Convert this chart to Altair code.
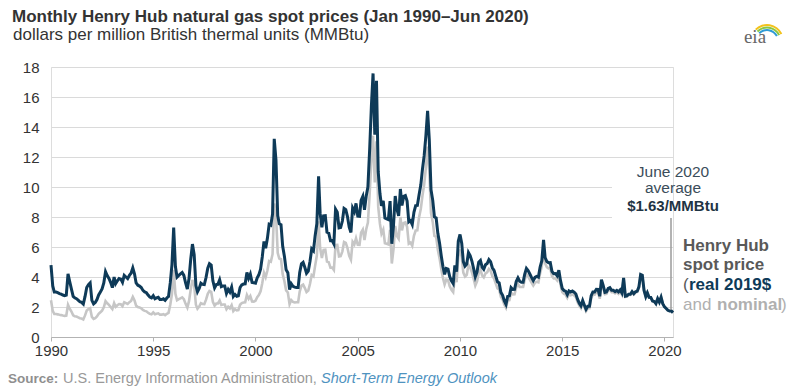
import altair as alt
import pandas as pd

# ---- data: Henry Hub monthly spot price, nominal $/MMBtu ----
nom_1990 = [2.45, 1.74, 1.53, 1.53, 1.51, 1.48, 1.46, 1.43, 1.41, 1.43, 2.15, 1.89]
nom_1991 = [1.70, 1.44, 1.39, 1.36, 1.31, 1.25, 1.23, 1.17, 1.44, 1.76, 1.86, 1.92]
nom_1992 = [1.34, 1.21, 1.26, 1.37, 1.54, 1.65, 1.76, 1.98, 2.39, 2.25, 2.14, 2.00]
nom_1993 = [1.86, 2.26, 2.01, 2.12, 2.20, 2.18, 2.06, 2.32, 2.26, 2.20, 2.32, 2.40]
nom_1994 = [2.67, 2.43, 2.09, 2.00, 1.97, 1.91, 1.80, 1.74, 1.71, 1.62, 1.54, 1.51]
nom_1995 = [1.64, 1.52, 1.55, 1.58, 1.49, 1.49, 1.52, 1.46, 1.55, 1.61, 2.15, 2.86]
nom_1996 = [4.48, 2.88, 2.45, 2.52, 2.58, 2.64, 2.52, 2.21, 1.96, 2.39, 3.19, 3.80]
nom_1997 = [3.45, 2.15, 1.89, 2.03, 2.25, 2.20, 2.19, 2.49, 2.88, 3.07, 3.01, 2.35]
nom_1998 = [2.09, 2.23, 2.24, 2.43, 2.14, 2.17, 2.17, 1.85, 2.02, 1.91, 2.12, 1.72]
nom_1999 = [1.85, 1.77, 1.79, 2.15, 2.26, 2.30, 2.31, 2.80, 2.55, 2.73, 2.37, 2.36]
nom_2000 = [2.42, 2.66, 2.79, 3.04, 3.59, 4.29, 3.99, 4.43, 5.06, 5.02, 5.52, 8.90]
nom_2001 = [8.17, 5.61, 5.23, 5.19, 4.19, 3.72, 3.11, 2.97, 2.19, 2.46, 2.34, 2.30]
nom_2002 = [2.32, 2.32, 3.03, 3.43, 3.50, 3.26, 2.99, 3.09, 3.55, 4.13, 4.04, 4.74]
nom_2003 = [5.43, 7.71, 5.93, 5.26, 5.81, 5.82, 5.03, 4.99, 4.62, 4.63, 4.47, 6.13]
nom_2004 = [6.14, 5.37, 5.39, 5.71, 6.33, 6.27, 5.93, 5.41, 5.15, 6.35, 6.17, 6.58]
nom_2005 = [6.15, 6.14, 6.96, 7.16, 6.47, 7.18, 7.63, 9.53, 11.75, 13.42, 10.30, 13.05]
nom_2006 = [8.69, 7.54, 6.89, 7.16, 6.25, 6.21, 6.17, 7.14, 4.90, 5.85, 7.41, 6.73]
nom_2007 = [6.55, 8.00, 7.11, 7.60, 7.64, 7.35, 6.22, 6.29, 6.08, 6.74, 7.10, 7.11]
nom_2008 = [7.99, 8.54, 9.41, 10.18, 11.27, 12.69, 11.09, 8.26, 7.67, 6.74, 6.68, 5.82]
nom_2009 = [5.24, 4.52, 3.96, 3.50, 3.83, 3.80, 3.38, 3.14, 2.99, 4.01, 3.66, 5.35]
nom_2010 = [5.83, 5.32, 4.29, 4.03, 4.14, 4.80, 4.63, 4.32, 3.89, 3.43, 3.71, 4.25]
nom_2011 = [4.49, 4.09, 3.97, 4.24, 4.31, 4.54, 4.42, 4.06, 3.90, 3.57, 3.24, 3.17]
nom_2012 = [2.67, 2.50, 2.17, 1.95, 2.43, 2.46, 2.95, 2.84, 2.85, 3.32, 3.54, 3.34]
nom_2013 = [3.33, 3.33, 3.81, 4.17, 4.04, 3.83, 3.62, 3.43, 3.62, 3.68, 3.64, 4.24]
nom_2014 = [4.71, 6.00, 4.90, 4.66, 4.58, 4.59, 4.05, 3.91, 3.92, 3.78, 4.12, 3.48]
nom_2015 = [2.99, 2.87, 2.83, 2.61, 2.85, 2.78, 2.84, 2.77, 2.66, 2.34, 2.09, 1.93]
nom_2016 = [2.28, 1.99, 1.73, 1.92, 1.92, 2.59, 2.82, 2.82, 2.99, 2.98, 2.55, 3.59]
nom_2017 = [3.30, 2.85, 2.88, 3.10, 3.15, 2.98, 2.98, 2.90, 2.98, 2.88, 3.01, 2.82]
nom_2018 = [3.87, 2.67, 2.69, 2.80, 2.80, 2.97, 2.83, 2.96, 3.00, 3.28, 4.09, 4.04]
nom_2019 = [3.11, 2.69, 2.95, 2.65, 2.64, 2.40, 2.37, 2.22, 2.56, 2.33, 2.65, 2.22]
nom_2020 = [2.02, 1.91, 1.79, 1.74, 1.75, 1.63]

# annual consumer price index (1982-84=100), used to express prices in 2019 dollars
cpi_years = list(range(1990, 2021))
cpi_values = [130.7, 136.2, 140.3, 144.5, 148.2, 152.4, 156.9, 160.5, 163.0, 166.6,
              172.2, 177.1, 179.9, 184.0, 188.9, 195.3, 201.6, 207.3, 215.3, 214.5,
              218.1, 224.9, 229.6, 233.0, 236.7, 237.0, 240.0, 245.1, 251.1, 255.7,
              257.0]

x_tick_years = [1990, 1995, 2000, 2005, 2010, 2015, 2020]
y_ticks = [0, 2, 4, 6, 8, 10, 12, 14, 16, 18]
series_names = ["nominal", "real"]
series_colors = ["#c6c6c6", "#0e3a58"]
series_widths = [2.6, 3.0]

nominal = (nom_1990 + nom_1991 + nom_1992 + nom_1993 + nom_1994 + nom_1995 + nom_1996 +
           nom_1997 + nom_1998 + nom_1999 + nom_2000 + nom_2001 + nom_2002 + nom_2003 +
           nom_2004 + nom_2005 + nom_2006 + nom_2007 + nom_2008 + nom_2009 + nom_2010 +
           nom_2011 + nom_2012 + nom_2013 + nom_2014 + nom_2015 + nom_2016 + nom_2017 +
           nom_2018 + nom_2019 + nom_2020)
dates = pd.date_range("1990-01-01", periods=len(nominal), freq="MS")
cpi = dict(zip(cpi_years, cpi_values))
real = [round(v * cpi[2019] / cpi[d.year], 3) for v, d in zip(nominal, dates)]

df = pd.DataFrame({"date": dates, "nominal": nominal, "real": real})

FONT = "Liberation Sans"

lines = alt.Chart(df).transform_fold(
    series_names, as_=["series", "value"]
).mark_line().encode(
    x=alt.X(
        "date:T",
        scale=alt.Scale(domain=[alt.DateTime(year=1990, month=1, date=1),
                                alt.DateTime(year=2020, month=6, date=1)]),
        axis=alt.Axis(
            values=[alt.DateTime(year=y, month=1, date=1) for y in x_tick_years],
            format="%Y", title=None, grid=False, labelFlush=False,
            domainColor="#b3b3b3", tickColor="#b3b3b3", tickSize=4,
            labelFontSize=15, labelColor="#333333", labelPadding=2, labelFont=FONT,
        ),
    ),
    y=alt.Y(
        "value:Q",
        scale=alt.Scale(domain=[0, 18], nice=False),
        axis=alt.Axis(
            values=y_ticks, title=None, grid=True, gridColor="#dadada", gridWidth=1,
            domain=False, ticks=False, labelPadding=12, labelFontSize=15,
            labelColor="#333333", labelFont=FONT, labelOverlap=False,
        ),
    ),
    color=alt.Color("series:N", scale=alt.Scale(domain=series_names, range=series_colors),
                    legend=None),
    strokeWidth=alt.StrokeWidth("series:N",
                                scale=alt.Scale(domain=series_names, range=series_widths),
                                legend=None),
)

one = pd.DataFrame({"k": [0]})


def txt(s, x, y, size=15, color="#333333", weight="normal", align="left",
        style="normal", font=FONT):
    return alt.Chart(one).mark_text(
        text=s, fontSize=size, color=color, fontWeight=weight, align=align,
        baseline="alphabetic", fontStyle=style, font=font,
    ).encode(x=alt.value(x), y=alt.value(y))


# white box behind the annotation (hides gridlines there)
box = alt.Chart(one).mark_rect(color="white").encode(
    x=alt.value(561), x2=alt.value(622), y=alt.value(113), y2=alt.value(163)
)
vline = alt.Chart(one).mark_rule(color="#9a9a9a", strokeWidth=1.5).encode(
    x=alt.value(620), y=alt.value(151), y2=alt.value(243)
)

texts = [
    txt("Monthly Henry Hub natural gas spot prices (Jan 1990\u2013Jun 2020)", -39, -45,
        size=17, weight="bold", color="#333333"),
    txt("dollars per million British thermal units (MMBtu)", -38, -27, size=17,
        color="#333333"),
    txt("June 2020", 622, 110, size=15.5, color="#3b4d5a", align="center"),
    txt("average", 622, 126, size=15.5, color="#3b4d5a", align="center"),
    txt("$1.63/MMBtu", 622, 144, size=15, color="#1f3444", weight="bold",
        align="center"),
    txt("Henry Hub", 632, 184, size=17, color="#595959", weight="bold"),
    txt("spot price", 632, 203, size=17, color="#595959", weight="bold"),
    txt("(", 632, 223, size=17, color="#595959"),
    txt("real 2019$", 638, 223, size=17, color="#0e3a58", weight="bold"),
    txt("and", 632, 243, size=17, color="#b0b0b0"),
    txt("nominal", 666, 243, size=17, color="#b0b0b0", weight="bold"),
    txt(")", 730, 243, size=17, color="#b0b0b0"),
    txt("Source:", -43, 316, size=13.5, color="#8f8f8f", weight="bold"),
    txt("U.S. Energy Information Administration,", 12, 316, size=14.5, color="#999999"),
    txt("Short-Term Energy Outlook", 270, 316, size=14.5, color="#4f93bf",
        style="italic"),
    txt("eia", 704, -24, size=19, color="#666666", font="Liberation Serif",
        align="center"),
]

arcs = [
    alt.Chart(one).mark_arc(radius=r, radius2=r - 2, theta=5.5, theta2=7.4,
                            color=c).encode(x=alt.value(716), y=alt.value(-26))
    for r, c in [(17, "#f2c21b"), (14.5, "#8cc63f"), (12, "#2e9bd6")]
]

chart = alt.layer(
    box, lines, vline, *texts, *arcs
).properties(
    width=622, height=270,
    autosize=alt.AutoSizeParams(type="none"),
    padding={"left": 43, "top": 59, "right": 119, "bottom": 49},
).configure_view(stroke=None).configure(font=FONT)

chart.save("out.html", embed_options={"renderer": "svg", "actions": False})
